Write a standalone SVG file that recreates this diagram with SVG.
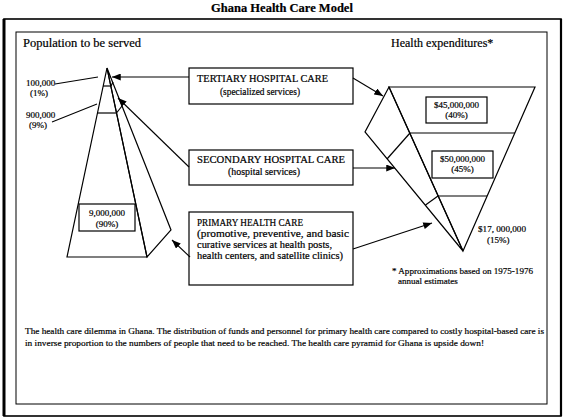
<svg xmlns="http://www.w3.org/2000/svg" width="564" height="419" viewBox="0 0 564 419">
<style>
  text { font-family: "Liberation Serif", "Times New Roman", serif; fill: #000; stroke: #000; stroke-width: 0.2; }
  .shape { fill: none; stroke: #000; stroke-width: 1.2; stroke-linejoin: miter; }
  .box { fill: #fff; stroke: #000; stroke-width: 1.2; }
  .conn { fill: none; stroke: #000; stroke-width: 1.1; }
  .lbl { font-size: 9px; }
  .btxt { font-size: 10px; }
  .mid { text-anchor: middle; }
</style>
<defs>
  <marker id="ah" viewBox="0 0 10 8" refX="10" refY="4" markerWidth="9" markerHeight="7" markerUnits="userSpaceOnUse" orient="auto">
    <path d="M0,0 L10,4 L0,8 Z" fill="#000"/>
  </marker>
</defs>
<rect width="564" height="419" fill="#fff"/>

<g id="frame">
  <rect x="4" y="19" width="557" height="397" fill="none" stroke="#000" stroke-width="1.6"/>
  <line x1="4" y1="19" x2="4" y2="416" stroke="#000" stroke-width="3"/>
  <line x1="561" y1="19" x2="561" y2="416" stroke="#000" stroke-width="2.2"/>
  <rect x="16" y="32" width="531" height="372" fill="none" stroke="#000" stroke-width="1"/>
</g>

<text x="282" y="12" class="mid" font-size="12.5" font-weight="bold">Ghana Health Care Model</text>
<text x="23" y="47" font-size="12" textLength="118" lengthAdjust="spacingAndGlyphs">Population to be served</text>
<text x="391" y="47" font-size="12">Health expenditures*</text>

<g id="population-pyramid">
  <polygon class="shape" points="107,68 67,257 147,257"/>
  <polygon class="shape" points="107,68 171,230 147,257"/>
  <line class="shape" x1="103" y1="86" x2="111" y2="86"/>
  <line class="shape" x1="111" y1="86" x2="113" y2="82"/>
  <line class="shape" x1="97.5" y1="113" x2="116.5" y2="113"/>
  <line class="shape" x1="116.5" y1="113" x2="122" y2="106"/>
  <g id="pop-90">
    <rect class="box" x="79" y="204" width="56" height="27"/>
    <text class="lbl mid" x="107" y="216">9,000,000</text>
    <text class="lbl mid" x="107" y="227">(90%)</text>
  </g>
</g>

<g id="pop-labels">
  <text class="lbl" x="26" y="86">100,000</text>
  <text class="lbl mid" x="39" y="96">(1%)</text>
  <text class="lbl" x="26" y="118">900,000</text>
  <text class="lbl mid" x="38" y="128">(9%)</text>
</g>

<g id="expenditure-pyramid">
  <polygon class="shape" points="389,87 535,87 463,251"/>
  <polygon class="shape" points="389,87 365,132 463,251"/>
  <line class="shape" x1="410" y1="133" x2="515" y2="133"/>
  <line class="shape" x1="410" y1="133" x2="387" y2="159"/>
  <line class="shape" x1="438" y1="196" x2="487" y2="196"/>
  <line class="shape" x1="438" y1="196" x2="425.5" y2="205"/>
  <g id="exp-40">
    <rect class="box" x="426" y="97" width="61" height="26"/>
    <text class="lbl mid" x="456.5" y="108" font-size="8.5">$45,000,000</text>
    <text class="lbl mid" x="456.5" y="118" font-size="8.5">(40%)</text>
  </g>
  <g id="exp-45">
    <rect class="box" x="432" y="151" width="61" height="27"/>
    <text class="lbl mid" x="462.5" y="162" font-size="8.5">$50,000,000</text>
    <text class="lbl mid" x="462.5" y="172" font-size="8.5">(45%)</text>
  </g>
  <g id="exp-15">
    <text class="lbl" x="478" y="232" textLength="48" lengthAdjust="spacingAndGlyphs">$17, 000,000</text>
    <text class="lbl" x="487" y="243">(15%)</text>
  </g>
</g>

<g id="tertiary">
  <rect class="box" x="189" y="68" width="164" height="36"/>
  <text class="btxt" x="197" y="82" textLength="131" lengthAdjust="spacingAndGlyphs">TERTIARY HOSPITAL CARE</text>
  <text class="btxt" x="220" y="95" textLength="80" lengthAdjust="spacingAndGlyphs">(specialized services)</text>
</g>
<g id="secondary">
  <rect class="box" x="189" y="150" width="164" height="35"/>
  <text class="btxt" x="197" y="163" textLength="148" lengthAdjust="spacingAndGlyphs">SECONDARY HOSPITAL CARE</text>
  <text class="btxt" x="228" y="175" textLength="72" lengthAdjust="spacingAndGlyphs">(hospital services)</text>
</g>
<g id="primary">
  <rect class="box" x="189" y="212" width="164" height="73"/>
  <text class="btxt" x="197" y="226" textLength="106" lengthAdjust="spacingAndGlyphs">PRIMARY HEALTH CARE</text>
  <text class="btxt" x="197" y="237" font-size="10.8" textLength="152" lengthAdjust="spacingAndGlyphs">(promotive, preventive, and basic</text>
  <text class="btxt" x="197" y="248" font-size="10.8" textLength="135" lengthAdjust="spacingAndGlyphs">curative services at health posts,</text>
  <text class="btxt" x="197" y="259" font-size="10.8" textLength="146" lengthAdjust="spacingAndGlyphs">health centers, and satellite clinics)</text>
</g>

<g id="connectors">
  <line class="conn" x1="55" y1="84" x2="98" y2="77"/>
  <line class="conn" x1="52" y1="122" x2="97" y2="104"/>
  <line class="conn" x1="189" y1="77" x2="112" y2="77" marker-end="url(#ah)"/>
  <line class="conn" x1="189" y1="167" x2="118" y2="98" marker-end="url(#ah)"/>
  <line class="conn" x1="190" y1="257" x2="172" y2="240" marker-end="url(#ah)"/>
  <line class="conn" x1="353" y1="78" x2="383" y2="96" marker-end="url(#ah)"/>
  <line class="conn" x1="353" y1="168" x2="395" y2="168" marker-end="url(#ah)"/>
  <line class="conn" x1="353" y1="249" x2="432" y2="223" marker-end="url(#ah)"/>
</g>

<g id="footnote">
  <text class="lbl" x="392" y="274" textLength="141" lengthAdjust="spacingAndGlyphs">* Approximations based on 1975-1976</text>
  <text class="lbl" x="398" y="284">annual estimates</text>
</g>

<g id="caption">
  <text x="25" y="334" font-size="9.2" textLength="519" lengthAdjust="spacingAndGlyphs">The health care dilemma in Ghana. The distribution of funds and personnel for primary health care compared to costly hospital-based care is</text>
  <text x="25" y="346" font-size="9.2" textLength="459" lengthAdjust="spacingAndGlyphs">in inverse proportion to the numbers of people that need to be reached.  The health care pyramid for Ghana is upside down!</text>
</g>
</svg>
